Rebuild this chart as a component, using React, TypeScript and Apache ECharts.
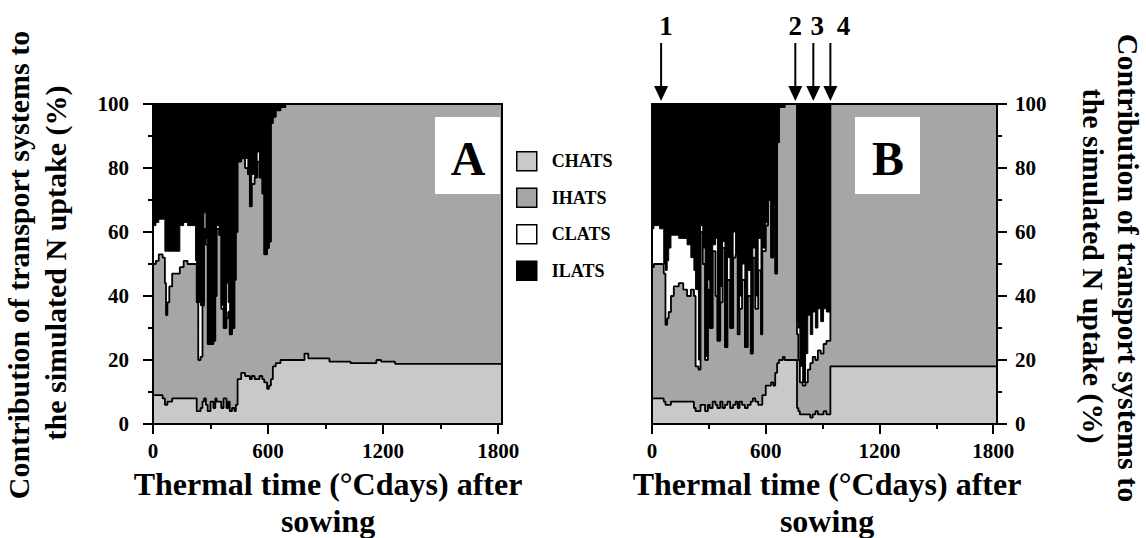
import React, { useEffect, useRef } from 'react';
import * as echarts from 'echarts';

const FONT = '"Liberation Serif", "Times New Roman", serif';
const X_MAX = 1820;
const X_MAJOR = [0, 600, 1200, 1800];
const X_MINOR = [300, 900, 1500];

const LAYERS = ['CHATS', 'IHATS', 'CLATS', 'ILATS'];
const COLORS: Record<string, string> = { CHATS: '#c9c9c9', IHATS: '#a6a6a6', CLATS: '#ffffff', ILATS: '#000000' };

// Panel A: thermal time (°Cdays) and cumulative upper boundary of each layer (%)
const aTime = [0, 15, 30, 50, 62, 68, 75, 85, 100, 140, 160, 180, 200, 222, 228, 236, 248, 258, 266, 276, 285, 300, 315, 325, 332, 345, 356, 368, 383, 392, 400, 412, 425, 432, 441, 460, 480, 495, 505, 515, 530, 543, 555, 570, 580, 595, 605, 615, 625, 640, 665, 690, 790, 810, 920, 1030, 1165, 1190, 1262, 1820];
const aChatsTop = [9, 9, 9, 8, 6, 6, 7, 7, 8, 8, 8, 8, 8, 8, 4, 4, 5, 7, 8, 6, 4, 7, 5, 8, 7, 7, 5, 8, 5, 7, 4, 5, 4, 6, 14, 16, 15, 15, 14, 15, 14, 14, 15, 14, 13, 11, 12, 14, 18, 19, 20, 20, 22, 20.5, 19.5, 19, 20, 19.5, 18.8, 18.8];
const aIhatsTop = [50, 51, 53, 52, 44, 34, 38, 43, 47, 49, 51, 50, 50, 50, 38, 20, 21, 37, 61, 56, 25, 25, 26, 40, 61, 59, 36, 30, 33, 35, 28, 30, 45, 60, 82, 83, 80, 78, 68, 75, 77, 82, 77, 72, 53, 55, 57, 94, 96, 98, 99, 100, 100, 100, 100, 100, 100, 100, 100, 100];
const aClatsTop = [62, 63, 64, 64, 54, 54, 54, 54, 54, 62, 63, 62, 62, 51, 38, 38, 37, 38, 66, 58, 25, 25, 26, 40, 62, 59, 37, 30, 44, 38, 28, 30, 45, 60, 82, 83, 83, 78, 68, 78, 77, 85, 77, 72, 53, 55, 57, 94, 96, 98, 99, 100, 100, 100, 100, 100, 100, 100, 100, 100];

// Panel B
const bTime = [0, 10, 40, 62, 71, 80, 88, 100, 115, 141, 165, 185, 205, 221, 230, 245, 256, 268, 280, 295, 305, 320, 335, 345, 360, 372, 385, 398, 412, 428, 441, 452, 462, 475, 490, 505, 521, 532, 545, 560, 575, 582, 600, 612, 628, 640, 650, 660, 670, 690, 700, 765, 772, 780, 795, 810, 822, 835, 848, 862, 875, 890, 905, 920, 941, 1820];
const bChatsTop = [8, 8, 8, 7, 6, 6, 6, 7, 7, 7, 7, 7, 7, 5, 4, 4, 6, 6, 4, 6, 5, 7, 6, 5, 7, 5, 6, 7, 5, 6, 7, 5, 7, 6, 5, 6, 7, 8, 7, 6, 6, 9, 12, 12, 13, 12, 16, 19, 20, 21, 20, 5, 4, 3, 3, 3, 3, 2, 3, 4, 3, 3, 4, 3, 18, 18];
const bIhatsTop = [49, 50, 50, 47, 31, 33, 35, 40, 43, 44, 42, 40, 42, 40, 18, 17, 60, 50, 20, 42, 30, 54, 40, 26, 38, 55, 24, 45, 30, 52, 53, 28, 36, 45, 24, 40, 22, 52, 36, 48, 28, 54, 62, 70, 52, 69, 47, 88, 99, 99, 100, 28, 20, 13, 12, 13, 17, 19, 21, 20, 23, 22, 25, 26, 100, 100];
const bClatsTop = [61, 62, 61, 50, 48, 51, 55, 59, 59, 58, 58, 56, 52, 48, 42, 20, 62, 55, 21, 45, 30, 56, 58, 26, 43, 57, 24, 52, 30, 60, 53, 35, 40, 50, 24, 48, 22, 55, 40, 58, 28, 55, 63, 70, 52, 69, 47, 88, 99, 99, 100, 32, 30, 18, 13, 22, 34, 28, 35, 30, 36, 32, 36, 35, 100, 100];
const ilatsTop = [100, 100];
const ilatsTime = [0, X_MAX];

const Y_TICKS_STEP = 20;
const ARROW_TIMES = [48, 756, 851, 941];
const ARROW_LABELS = ['1', '2', '3', '4'];
const ARROW_LABEL_DX = [5, 0, 4, 13];

const GRID_A = { left: 153, top: 104, width: 349, height: 320 };
const GRID_B = { left: 652, top: 104, width: 345, height: 320 };

function pairs(t: number[], v: number[]) {
  return t.map((x, i) => [x, v[i]]);
}

function layer(name: string, idx: number, t: number[], v: number[], lw: number) {
  return {
    type: 'line',
    name,
    xAxisIndex: idx,
    yAxisIndex: idx,
    step: 'end',
    symbol: 'none',
    showSymbol: false,
    silent: true,
    color: COLORS[name],
    data: pairs(t, v),
    areaStyle: { color: COLORS[name], opacity: 1 },
    lineStyle: { color: '#000', width: lw },
  };
}

const tickText = { color: '#000', fontFamily: FONT, fontWeight: 'bold', fontSize: 21 };
const blackLine = { color: '#000', width: 2 };
const plain = (v: number) => String(v);

function xMain(gridIndex: number) {
  return {
    type: 'value', gridIndex, min: 0, max: X_MAX, interval: 600, position: 'bottom',
    axisLine: { show: true, onZero: false, lineStyle: blackLine },
    axisTick: { show: true, length: 10, lineStyle: blackLine, customValues: X_MAJOR },
    axisLabel: { ...tickText, margin: 16, customValues: X_MAJOR, formatter: plain },
    splitLine: { show: false },
  };
}
function xMinor(gridIndex: number) {
  return {
    type: 'value', gridIndex, min: 0, max: X_MAX, position: 'bottom',
    axisLine: { show: false },
    axisTick: { show: true, length: 5, lineStyle: blackLine, customValues: X_MINOR },
    axisLabel: { show: false },
    splitLine: { show: false },
  };
}
function yAxis(gridIndex: number, position: string) {
  return {
    type: 'value', gridIndex, min: 0, max: 100, interval: Y_TICKS_STEP, position,
    axisLine: { show: true, onZero: false, lineStyle: blackLine },
    axisTick: { show: true, length: 10, lineStyle: blackLine },
    minorTick: { show: true, splitNumber: 2, length: 5, lineStyle: blackLine },
    axisLabel: { ...tickText, margin: position === 'left' ? 24 : 18, formatter: plain },
    splitLine: { show: false },
    minorSplitLine: { show: false },
  };
}

function txt(text: string, x: number, y: number, size: number, rotation = 0) {
  return {
    type: 'text', x, y, rotation, z: 100, silent: true,
    style: {
      text, fill: '#000', font: `bold ${size}px ${FONT}`,
      textAlign: 'center', textVerticalAlign: 'middle', align: 'center', verticalAlign: 'middle',
    },
  };
}

export default function App() {
  const ref = useRef<HTMLDivElement>(null);
  useEffect(() => {
    const chart = echarts.init(ref.current!, null, { renderer: 'svg' });
    const series: any[] = [];
    const panels = [
      { t: aTime, c: aChatsTop, i: aIhatsTop, l: aClatsTop },
      { t: bTime, c: bChatsTop, i: bIhatsTop, l: bClatsTop },
    ];
    panels.forEach((p, idx) => {
      series.push(layer('ILATS', idx, ilatsTime, ilatsTop, 0));
      series.push(layer('CLATS', idx, p.t, p.l, 1));
      series.push(layer('IHATS', idx, p.t, p.i, 1.8));
      series.push(layer('CHATS', idx, p.t, p.c, 1.8));
    });
    chart.setOption({
      animation: false,
      backgroundColor: '#fff',
      grid: [GRID_A, GRID_B],
      xAxis: [xMain(0), xMain(1), xMinor(0), xMinor(1)],
      yAxis: [yAxis(0, 'left'), yAxis(1, 'right')],
      legend: {
        orient: 'vertical', left: 511, top: 146, itemWidth: 20, itemHeight: 19, itemGap: 16,
        selectedMode: false, icon: 'rect',
        textStyle: { color: '#000', fontFamily: FONT, fontWeight: 'bold', fontSize: 18, padding: [0, 0, 0, 10] },
        data: LAYERS.map((n) => ({ name: n, icon: 'rect', itemStyle: { color: COLORS[n], borderColor: '#000', borderWidth: 1.5 } })),
      },
      series,
    });

    const graphics: any[] = [];
    [GRID_A, GRID_B].forEach((g) => {
      graphics.push({
        type: 'rect', z: 90, silent: true,
        shape: { x: g.left, y: g.top, width: g.width, height: g.height },
        style: { fill: 'transparent', stroke: '#000', lineWidth: 2 },
      });
    });
    // panel letters
    graphics.push({ type: 'rect', z: 95, silent: true, shape: { x: 435, y: 117, width: 65, height: 77 }, style: { fill: '#fff' } });
    graphics.push(txt('A', 468, 158, 48));
    graphics.push({ type: 'rect', z: 95, silent: true, shape: { x: 855, y: 117, width: 65, height: 77 }, style: { fill: '#fff' } });
    graphics.push(txt('B', 888, 158, 48));
    // axis titles
    graphics.push(txt('Thermal time (°Cdays) after', 328, 484, 32));
    graphics.push(txt('sowing', 328, 521, 32));
    graphics.push(txt('Thermal time (°Cdays) after', 827, 484, 32));
    graphics.push(txt('sowing', 827, 521, 32));
    graphics.push(txt('Contribution of transport systems to', 18, 265, 30, Math.PI / 2));
    graphics.push(txt('the simulated N uptake (%)', 55, 263, 30, Math.PI / 2));
    graphics.push(txt('Contribution of transport systems to', 1128, 268, 30, -Math.PI / 2));
    graphics.push(txt('the simulated N uptake (%)', 1093, 266, 30, -Math.PI / 2));
    // arrows (positions from the B axis scale)
    ARROW_TIMES.forEach((t, k) => {
      const p = chart.convertToPixel({ xAxisIndex: 1, yAxisIndex: 1 } as any, [t, 100]) as number[];
      const x = p[0];
      const tip = p[1] - 3;
      graphics.push({ type: 'line', z: 100, silent: true, shape: { x1: x, y1: 43, x2: x, y2: tip - 13 }, style: { stroke: '#000', lineWidth: 2 } });
      graphics.push({ type: 'polygon', z: 100, silent: true, shape: { points: [[x - 7, tip - 15], [x + 7, tip - 15], [x, tip]] }, style: { fill: '#000' } });
      graphics.push(txt(ARROW_LABELS[k], x + ARROW_LABEL_DX[k], 26, 27));
    });
    chart.setOption({ graphic: graphics });
    return () => chart.dispose();
  }, []);
  return <div ref={ref} style={{ position: 'absolute', left: 0, top: 0, width: 1146, height: 538, background: '#fff' }} />;
}
